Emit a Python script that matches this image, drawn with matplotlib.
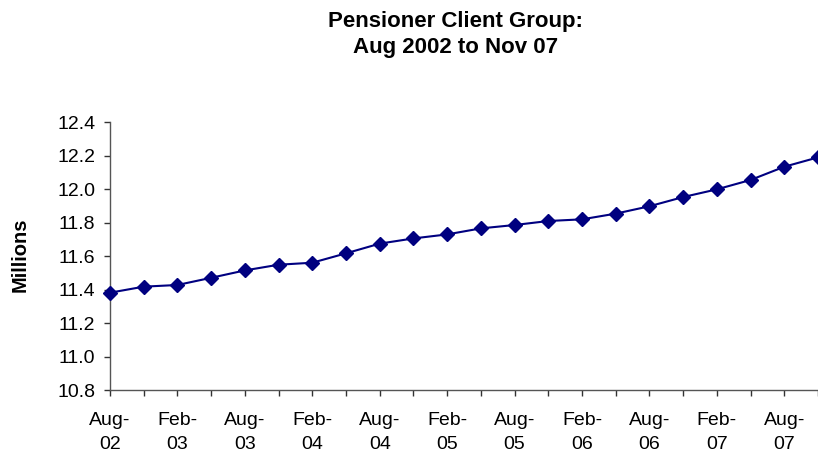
import matplotlib
matplotlib.use('Agg')
import matplotlib.pyplot as plt

# quarterly pensioner numbers (millions), Aug 2002 to Nov 2007
quarters = ['Aug-02', 'Nov-02', 'Feb-03', 'May-03', 'Aug-03', 'Nov-03',
            'Feb-04', 'May-04', 'Aug-04', 'Nov-04', 'Feb-05', 'May-05',
            'Aug-05', 'Nov-05', 'Feb-06', 'May-06', 'Aug-06', 'Nov-06',
            'Feb-07', 'May-07', 'Aug-07', 'Nov-07']
pensioners = [11.381, 11.417, 11.427, 11.470, 11.514, 11.548,
              11.560, 11.616, 11.674, 11.705, 11.729, 11.765,
              11.785, 11.809, 11.819, 11.853, 11.897, 11.952,
              11.998, 12.054, 12.133, 12.189]
y_ticks = [10.8, 11.0, 11.2, 11.4, 11.6, 11.8, 12.0, 12.2, 12.4]

plt.rcParams['font.family'] = ['Liberation Sans', 'DejaVu Sans']

fig = plt.figure(figsize=(8.18, 4.57), dpi=100)
ax = fig.add_axes([0.1345, 0.1466, 0.8655, 0.5864])

x = list(range(len(quarters)))
ax.plot(x, pensioners, color='#000080', linewidth=1.5, marker='D',
        markersize=7.5, clip_on=False, zorder=3)

ax.set_xlim(0, len(quarters) - 1)
ax.set_ylim(10.8, 12.4)
ax.set_yticks(y_ticks)
ax.set_yticklabels([f'{v:.1f}' for v in y_ticks], fontsize=14)

ax.set_xticks(x)
labels = [q.replace('-', '-\n') if i % 2 == 0 else '' for i, q in enumerate(quarters)]
ax.set_xticklabels(labels, fontsize=14, linespacing=1.6)

ax.tick_params(axis='both', direction='out', length=4.5, width=1, color='#333333')
ax.tick_params(axis='y', pad=6)
ax.tick_params(axis='x', pad=11)
for side in ['top', 'right']:
    ax.spines[side].set_visible(False)
for side in ['left', 'bottom']:
    ax.spines[side].set_color('#555555')
    ax.spines[side].set_linewidth(1)

fig.text(20.5 / 818, 0.443, 'Millions', rotation=90, ha='center', va='center',
         fontsize=14.5, fontweight='bold')

fig.text(0.557, 0.975, 'Pensioner Client Group:\nAug 2002 to Nov 07',
         ha='center', va='top', fontsize=16, fontweight='bold', linespacing=1.3)

fig.savefig('out.png', dpi=100)
